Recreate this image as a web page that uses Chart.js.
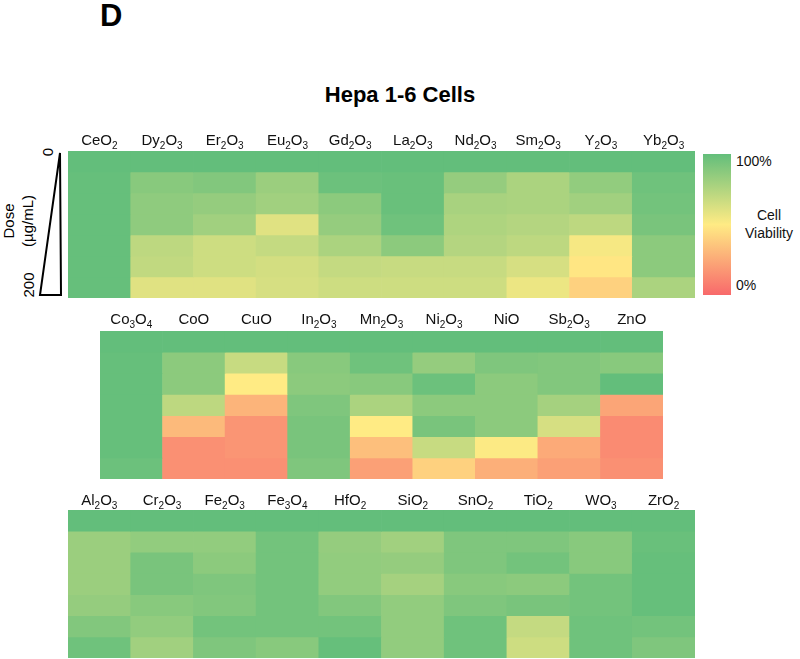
<!DOCTYPE html>
<html>
<head>
<meta charset="utf-8">
<script src="https://cdn.jsdelivr.net/npm/chart.js@4"></script>
<style>
  body { margin: 0; background: #fff; font-family: "Liberation Sans", Arial, sans-serif; }
  #page { position: relative; width: 800px; height: 659px; overflow: hidden; }
  .abs { position: absolute; }
  canvas { position: absolute; }
  #letter { left: 100px; top: -2px; font-size: 31px; font-weight: bold; }
  #title { left: 0; width: 800px; top: 82px; text-align: center; font-size: 22px; font-weight: bold; padding-left: 0; }
  .rot { transform: rotate(-90deg); transform-origin: center center; white-space: nowrap; font-size: 15px; text-align: center; }
  #cbar { left: 703px; top: 154px; width: 28px; height: 141px;
          background: linear-gradient(to bottom, #63BE7B 0%, #FFEB84 50%, #F8696B 100%); }
  .cb { font-size: 14px; color: #111; }
</style>
</head>
<body>
<div id="page">
  <div id="letter" class="abs">D</div>
  <div id="title" class="abs">Hepa 1-6 Cells</div>

  <div class="abs rot" style="left:-21px; top:212px; width:60px; height:18px;">Dose</div>
  <div class="abs rot" style="left:-7px; top:212px; width:70px; height:18px;">(µg/mL)</div>
  <div class="abs rot" style="left:39px; top:143px; width:18px; height:18px;">0</div>
  <div class="abs rot" style="left:14px; top:276px; width:30px; height:18px;">200</div>
  <svg class="abs" style="left:0; top:0;" width="80" height="320">
    <polygon points="60,153 61,295 40,295" fill="none" stroke="#000" stroke-width="2" stroke-linejoin="miter"/>
  </svg>

  <canvas id="panel1" width="627" height="173" style="left:68px; top:125px;"></canvas>
  <canvas id="panel2" width="563" height="174" style="left:100px; top:305px;"></canvas>
  <canvas id="panel3" width="627" height="174" style="left:68px; top:484px;"></canvas>

  <div id="cbar" class="abs"></div>
  <div class="abs cb" style="left:736px; top:153px;">100%</div>
  <div class="abs cb" style="left:738px; top:206px; width:62px; text-align:center; line-height:18px;">Cell<br>Viability</div>
  <div class="abs cb" style="left:736px; top:277px;">0%</div>
</div>

<script>
// dose rows, top (0) to bottom (200 µg/mL)
const doseTicks = ['0', '', '', '', '', '', '200'];

// panel 1: rare earth oxides, viability % per dose row
const rareEarthNames = ['CeO2', 'Dy2O3', 'Er2O3', 'Eu2O3', 'Gd2O3', 'La2O3', 'Nd2O3', 'Sm2O3', 'Y2O3', 'Yb2O3'];
const rareEarthValues = [
    [100, 99, 99, 99, 99, 99, 99],
    [100, 88, 86, 86, 71, 70, 60],
    [100, 90, 84, 80, 66, 66, 60],
    [100, 82, 80, 60, 69, 64, 63],
    [100, 97, 87, 84, 77, 69, 66],
    [100, 98, 98, 96, 87, 68, 66],
    [100, 84, 78, 76, 74, 68, 66],
    [100, 77, 77, 74, 71, 63, 56],
    [100, 85, 80, 71, 53, 48, 40],
    [100, 96, 95, 93, 87, 87, 77]
];

// panel 2: transition metal oxides
const transitionNames = ['Co3O4', 'CoO', 'CuO', 'In2O3', 'Mn2O3', 'Ni2O3', 'NiO', 'Sb2O3', 'ZnO'];
const transitionValues = [
    [100, 99, 99, 99, 99, 99, 97],
    [100, 87, 87, 71, 31, 15, 15],
    [100, 68, 50, 29, 17, 17, 15],
    [100, 88, 87, 91, 93, 93, 91],
    [100, 96, 88, 77, 50, 33, 21],
    [100, 84, 97, 87, 93, 68, 40],
    [100, 91, 87, 87, 87, 51, 27],
    [100, 90, 90, 79, 63, 25, 21],
    [100, 88, 100, 23, 13, 13, 15]
];

// panel 3: other oxides
const otherNames = ['Al2O3', 'Cr2O3', 'Fe2O3', 'Fe3O4', 'HfO2', 'SiO2', 'SnO2', 'TiO2', 'WO3', 'ZrO2'];
const otherValues = [
    [100, 82, 82, 82, 84, 90, 96],
    [100, 85, 93, 93, 88, 85, 80],
    [100, 85, 87, 91, 90, 95, 91],
    [100, 95, 95, 95, 95, 95, 88],
    [100, 84, 85, 85, 90, 95, 99],
    [100, 80, 84, 79, 85, 85, 85],
    [100, 91, 91, 88, 91, 96, 96],
    [100, 91, 95, 87, 93, 69, 66],
    [100, 88, 88, 95, 95, 96, 96],
    [100, 98, 99, 99, 99, 95, 91]
];

const red = [248, 105, 107], yellow = [255, 235, 132], green = [99, 190, 123];

function viabilityColor(v) {
    let a, b, t;
    if (v >= 50) { a = yellow; b = green; t = (v - 50) / 50; }
    else { a = red; b = yellow; t = v / 50; }
    t = Math.max(0, Math.min(1, t));
    const c = a.map((x, i) => Math.round(x + (b[i] - x) * t));
    return `rgb(${c[0]},${c[1]},${c[2]})`;
}

// draws the oxide names above the cells with subscript digits
const formulaLabels = {
    id: 'formulaLabels',
    afterDraw(chart, args, opts) {
        const ctx = chart.ctx;
        const xScale = chart.scales.x;
        const y = chart.chartArea.top - opts.gap;
        ctx.save();
        ctx.fillStyle = '#111';
        ctx.textBaseline = 'alphabetic';
        ctx.textAlign = 'left';
        chart.data.labels.forEach((lab, i) => {
            const parts = lab.match(/[A-Za-z]+|\d+/g);
            let width = 0;
            parts.forEach(p => {
                ctx.font = /\d/.test(p) ? '10px "Liberation Sans", Arial' : '15px "Liberation Sans", Arial';
                width += ctx.measureText(p).width;
            });
            let x = xScale.getPixelForValue(i) - width / 2;
            parts.forEach(p => {
                const sub = /\d/.test(p);
                ctx.font = sub ? '10px "Liberation Sans", Arial' : '15px "Liberation Sans", Arial';
                ctx.fillText(p, x, sub ? y + 4 : y);
                x += ctx.measureText(p).width;
            });
        });
        ctx.restore();
    }
};

function makePanel(canvasId, names, values, gap) {
    const datasets = doseTicks.map((dose, r) => ({
        label: dose,
        data: values.map(() => [r, r + 1]),
        backgroundColor: values.map(col => viabilityColor(col[r])),
        borderWidth: 0,
        barPercentage: 1,
        categoryPercentage: 1,
        grouped: false
    }));

    return new Chart(document.getElementById(canvasId), {
        type: 'bar',
        data: { labels: names, datasets: datasets },
        options: {
            responsive: false,
            animation: false,
            layout: { padding: { top: 26, left: 0, right: 0, bottom: 0 } },
            plugins: {
                legend: { display: false },
                tooltip: { enabled: false },
                formulaLabels: { gap: gap }
            },
            scales: {
                x: { type: 'category', display: false, offset: true },
                y: { min: 0, max: 7, reverse: true, display: false }
            }
        },
        plugins: [formulaLabels]
    });
}

makePanel('panel1', rareEarthNames, rareEarthValues, 6);
makePanel('panel2', transitionNames, transitionValues, 7);
makePanel('panel3', otherNames, otherValues, 5);
</script>
</body>
</html>
